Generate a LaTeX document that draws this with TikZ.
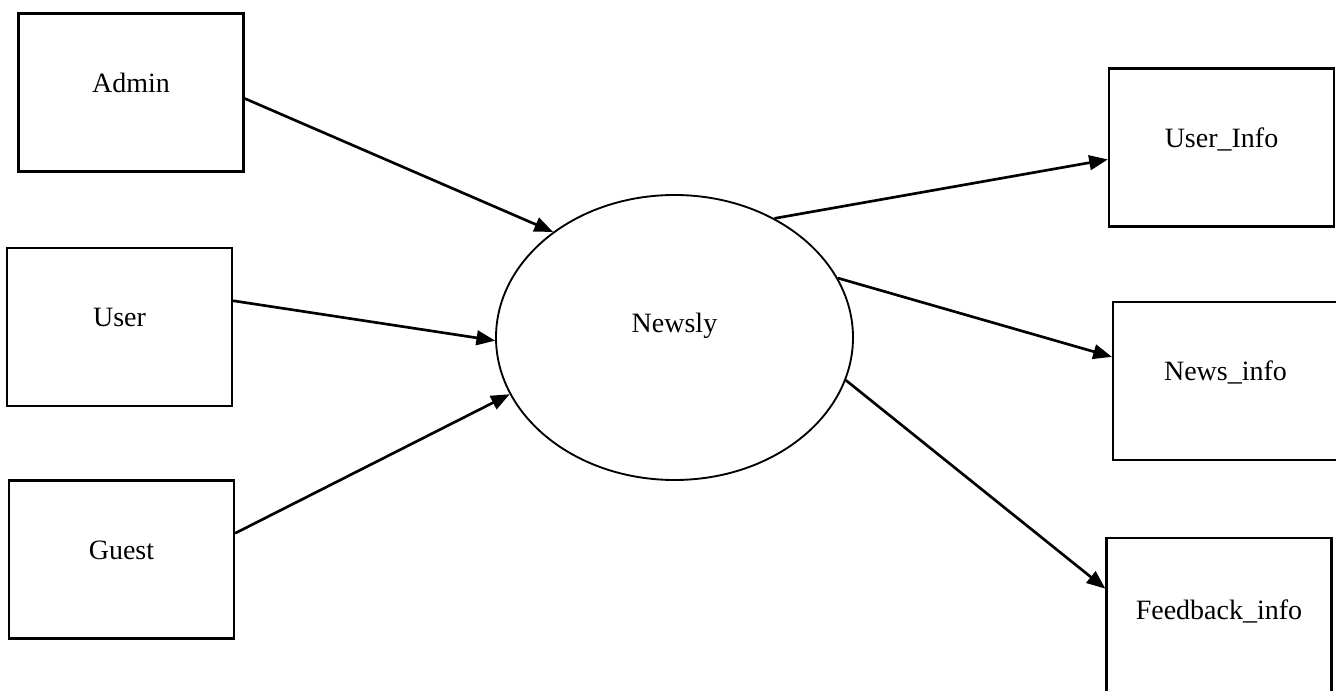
\documentclass[tikz,border=0pt]{standalone}
\usepackage{fontspec}
\setmainfont{Liberation Serif}
\usetikzlibrary{arrows.meta,shapes.geometric}

\tikzset{every picture/.style={line width=0.75pt}}
\tikzset{
  entity/.style={draw, rectangle, line width=1.7pt, minimum width=168.75pt, minimum height=118.5pt, inner sep=0pt, text height=15pt, text depth=#1, font=\fontsize{21}{25}\selectfont},
  entity/.default=15pt,
  process/.style={draw, ellipse, line width=1.4pt, minimum width=267.75pt, minimum height=213.75pt, inner sep=0pt, text height=15pt, text depth=22pt, font=\fontsize{21}{25}\selectfont},
  flow/.style={line width=2pt, -{Triangle[length=14pt,width=11pt]}}
}

\begin{document}
\begin{tikzpicture}[x=0.75pt,y=0.75pt,yscale=-1,xscale=1]
\useasboundingbox (0,0) rectangle (1336,691);

%Shape: Rectangle [sources]
\node (admin) [entity] at (131,92.5) {Admin};
\node (user) [entity] at (119.5,327) {User};
\node (guest) [entity] at (121.5,559.5) {Guest};

%Shape: Ellipse [process]
\node (newsly) [process] at (674.5,337.5) {Newsly};

%Shape: Rectangle [stores]
\node (userinfo) [entity] at (1221.5,147.5) {User\_Info};
\node (newsinfo) [entity] at (1225.5,381) {News\_info};
\node (feedback) [entity=11pt] at (1219,617) {Feedback\_info};

%Straight Lines
\draw [flow] (admin.-3) -- (newsly.139);
\draw [flow] (user.13) -- (newsly.181);
\draw [flow] (guest.13) -- (newsly.199);
\draw [flow] (newsly.50) -- (userinfo.186);
\draw [flow] (newsly.20) -- (newsinfo.168);
\draw [flow] (newsly.-14) -- (feedback.166);

\end{tikzpicture}
\end{document}
